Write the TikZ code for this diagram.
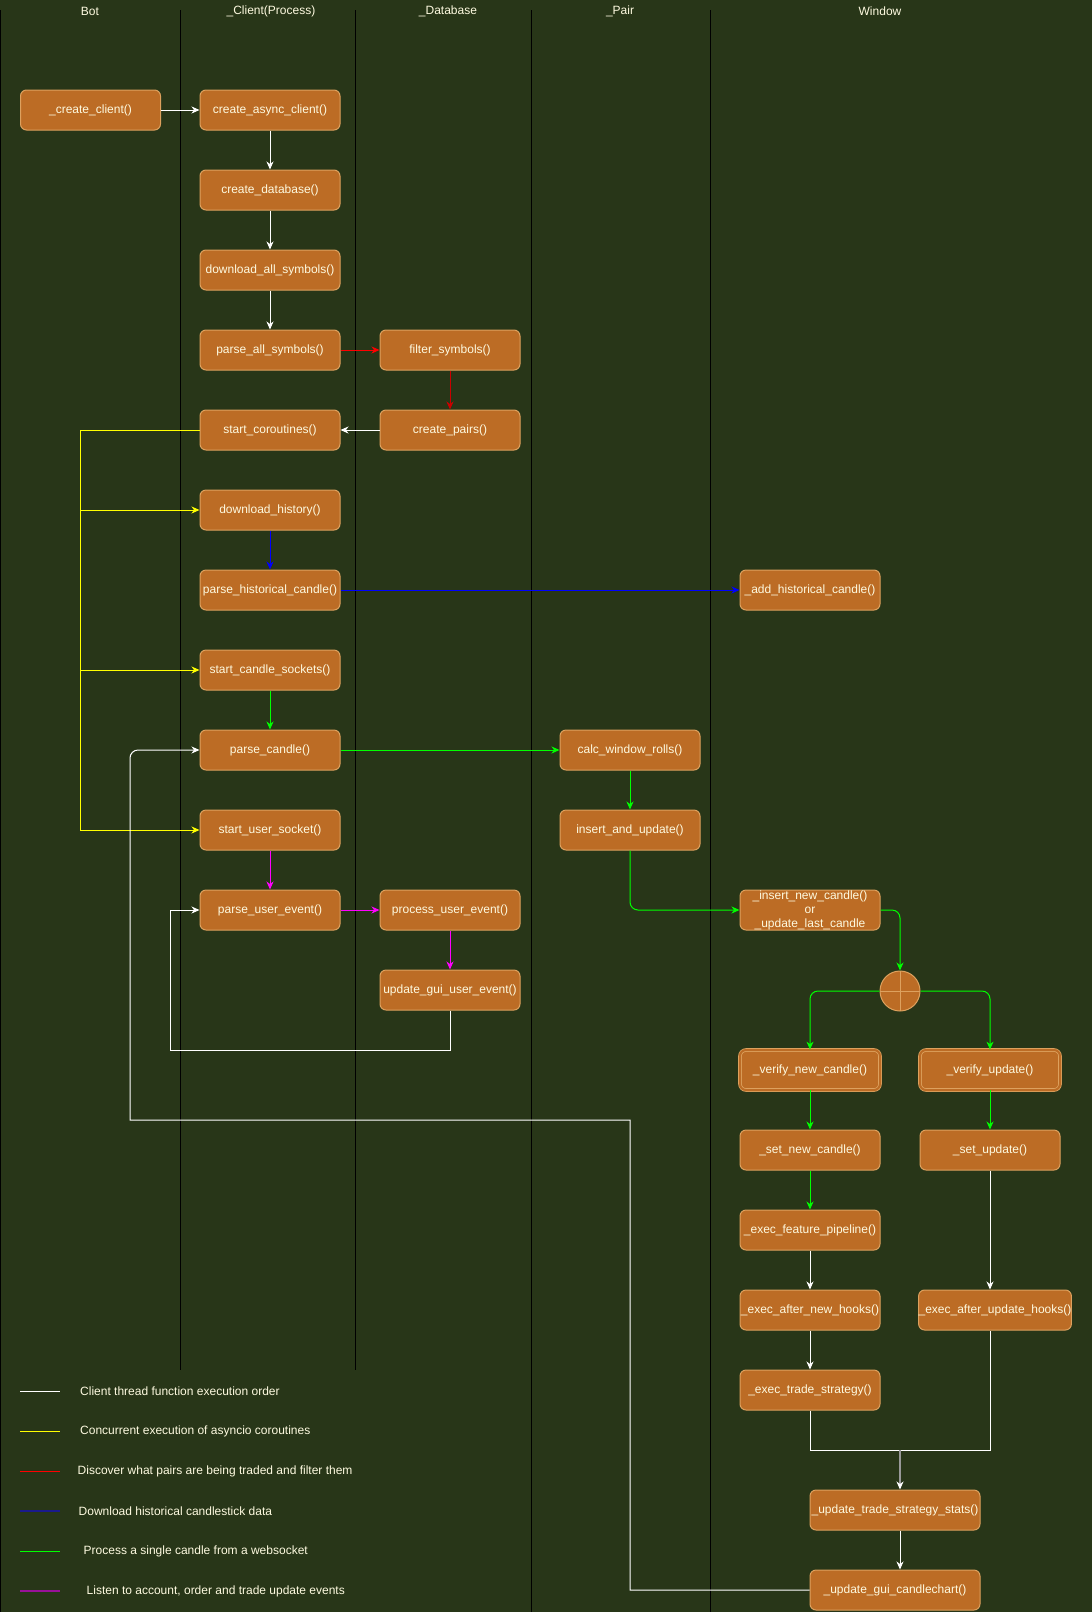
\documentclass[tikz,border=0pt]{standalone}
\usepackage{fontspec}
\setmainfont{Liberation Sans}
\usetikzlibrary{arrows.meta}

\begin{document}
\begin{tikzpicture}[x=1pt,y=-1pt,
  fn/.style={draw=edge, fill=box, text=txt, rounded corners=6pt, line width=1pt,
    minimum width=140pt, minimum height=40pt, inner sep=0pt, align=center,
    font=\fontsize{12}{14}\selectfont},
  dfn/.style={fn, double=box, double distance=2pt, line width=0.8pt},
  hdr/.style={text=txt, inner sep=0pt, font=\fontsize{12}{14}\selectfont},
  legtxt/.style={text=txt, inner sep=0pt, anchor=west, font=\fontsize{12}{14}\selectfont},
  orjoin/.style={circle, draw=edge, fill=box, line width=1pt, minimum size=40pt, inner sep=0pt,
    path picture={\draw[edge, line width=0.8pt] (path picture bounding box.north) -- (path picture bounding box.south)
      (path picture bounding box.west) -- (path picture bounding box.east);}},
  lane/.style={black, line width=1pt},
  flow/.style={line width=1pt, -{Stealth[length=8pt, width=7pt, inset=2.5pt]}},
  wflow/.style={flow, white},
  yflow/.style={flow, yellowline},
  rflow/.style={flow, redline},
  bflow/.style={flow, blueline},
  gflow/.style={flow, greenline},
  mflow/.style={flow, magline}]
\definecolor{bg}{HTML}{283618}
\definecolor{box}{HTML}{BC6C25}
\definecolor{edge}{HTML}{DDA15E}
\definecolor{txt}{HTML}{FEFAE0}
\definecolor{yellowline}{HTML}{FFFF00}
\definecolor{redline}{HTML}{FF0000}
\definecolor{darkredline}{HTML}{CC0000}
\definecolor{blueline}{HTML}{0000FF}
\definecolor{greenline}{HTML}{00FF00}
\definecolor{magline}{HTML}{FF00FF}
\definecolor{navyline}{HTML}{1A1A8C}
\definecolor{purpleline}{HTML}{991199}
\definecolor{joinline}{HTML}{999999}
\fill[bg] (0,0) rectangle (1092,1612);
\useasboundingbox (0,0) rectangle (1092,1612);

\draw[lane] (0.5,10) -- (0.5,1612);
\draw[lane] (180,10) -- (180,1370);
\draw[lane] (355,10) -- (355,1370);
\draw[lane] (531,10) -- (531,1612);
\draw[lane] (710,10) -- (710,1612);

\node[hdr] (hbot) at (90,11) {Bot};
\node[hdr] (hclient) at (271,11) {\_Client(Process)};
\node[hdr] (hdb) at (448,11) {\_Database};
\node[hdr] (hpair) at (620,11) {\_Pair};
\node[hdr] (hwindow) at (880,11) {Window};

\node[fn] (createclient) at (90.5,110) {\_create\_client()};
\node[fn] (createasync) at (270,110) {create\_async\_client()};
\node[fn] (createdb) at (270,190) {create\_database()};
\node[fn] (downloadall) at (270,270) {download\_all\_symbols()};
\node[fn] (parseall) at (270,350) {parse\_all\_symbols()};
\node[fn] (startcor) at (270,430) {start\_coroutines()};
\node[fn] (downloadhist) at (270,510) {download\_history()};
\node[fn] (parsehist) at (270,590) {parse\_historical\_candle()};
\node[fn] (startcandle) at (270,670) {start\_candle\_sockets()};
\node[fn] (parsecandle) at (270,750) {parse\_candle()};
\node[fn] (startuser) at (270,830) {start\_user\_socket()};
\node[fn] (parseuser) at (270,910) {parse\_user\_event()};

\node[fn] (filtersym) at (450,350) {filter\_symbols()};
\node[fn] (createpairs) at (450,430) {create\_pairs()};
\node[fn] (processuser) at (450,910) {process\_user\_event()};
\node[fn] (updategui) at (450,990) {update\_gui\_user\_event()};

\node[fn] (calcroll) at (630,750) {calc\_window\_rolls()};
\node[fn] (insertupd) at (630,830) {insert\_and\_update()};

\node[fn] (addhist) at (810,590) {\_add\_historical\_candle()};
\node[fn] (insertnew) at (810,910) {\_insert\_new\_candle()\\or\\\_update\_last\_candle};
\node[orjoin] (orjoin) at (900,991) {};
\node[dfn] (verifynew) at (810,1070) {\_verify\_new\_candle()};
\node[dfn] (verifyupd) at (990,1070) {\_verify\_update()};
\node[fn] (setnew) at (810,1150) {\_set\_new\_candle()};
\node[fn] (setupd) at (990,1150) {\_set\_update()};
\node[fn] (execfeat) at (810,1230) {\_exec\_feature\_pipeline()};
\node[fn] (execnewhooks) at (810,1310) {\_exec\_after\_new\_hooks()};
\node[fn, minimum width=150pt] (execupdhooks) at (995,1310) {\_exec\_after\_update\_hooks()};
\node[fn] (exectrade) at (810,1390) {\_exec\_trade\_strategy()};
\coordinate (joint) at (900,1450);
\node[fn, minimum width=170pt] (stats) at (895,1510) {\_update\_trade\_strategy\_stats()};
\node[fn, minimum width=170pt] (candlechart) at (895,1590) {\_update\_gui\_candlechart()};

\draw[wflow] (createclient) -- (createasync);
\draw[wflow] (createasync) -- (createdb);
\draw[wflow] (createdb) -- (downloadall);
\draw[wflow] (downloadall) -- (parseall);
\draw[rflow] (parseall) -- (filtersym);
\draw[rflow, darkredline] (filtersym) -- (createpairs);
\draw[wflow] (createpairs) -- (startcor);

\draw[yellowline, line width=1pt] (startcor.west) -- (80,430) -- (80,830);
\draw[yflow] (80,510) -- (downloadhist.west);
\draw[yflow] (80,670) -- (startcandle.west);
\draw[yflow] (80,830) -- (startuser.west);

\draw[bflow] (downloadhist) -- (parsehist);
\draw[bflow] (parsehist) -- (addhist);

\draw[gflow] (startcandle) -- (parsecandle);
\draw[gflow] (parsecandle) -- (calcroll);
\draw[gflow] (calcroll) -- (insertupd);
\draw[gflow, rounded corners=8pt] (insertupd.south) |- (insertnew.west);
\draw[gflow, rounded corners=8pt] (insertnew.east) -| (orjoin.north);
\draw[gflow, rounded corners=8pt] (orjoin.west) -| (verifynew.north);
\draw[gflow, rounded corners=8pt] (orjoin.east) -| (verifyupd.north);
\draw[gflow] (verifynew) -- (setnew);
\draw[gflow] (setnew) -- (execfeat);
\draw[gflow] (verifyupd) -- (setupd);

\draw[wflow] (execfeat) -- (execnewhooks);
\draw[wflow] (execnewhooks) -- (exectrade);
\draw[wflow] (setupd.south) -- (setupd |- execupdhooks.north);
\draw[white, line width=1pt] (exectrade.south) |- (joint) -| (setupd |- execupdhooks.south);
\draw[flow, joinline, line width=2pt, -{Stealth[length=8pt, width=7pt, inset=2.5pt, color=white]}] (joint) -- (joint |- stats.north);
\draw[wflow] (joint |- stats.south) -- (joint |- candlechart.north);
\draw[wflow] (candlechart.west) -| (630,1120) -- (130,1120) [rounded corners=8pt] -- (130,750) -- (parsecandle.west);

\draw[mflow] (startuser) -- (parseuser);
\draw[mflow] (parseuser) -- (processuser);
\draw[mflow] (processuser) -- (updategui);
\draw[wflow] (updategui.south) -- (450,1050) -| (170,910) -- (parseuser.west);

\draw[white, line width=1pt] (20,1391) -- (60,1391);
\node[legtxt] (leg1) at (80,1391) {Client thread function execution order};
\draw[yellowline, line width=1pt] (20,1431) -- (60,1431);
\node[legtxt] (leg2) at (80,1431) {Concurrent execution of asyncio coroutines};
\draw[redline, line width=1pt] (20,1471) -- (60,1471);
\node[legtxt] (leg3) at (77.5,1471) {Discover what pairs are being traded and filter them};
\draw[navyline, line width=2pt] (20,1511) -- (60,1511);
\node[legtxt] (leg4) at (78.5,1511) {Download historical candlestick data};
\draw[greenline, line width=1pt] (20,1551) -- (60,1551);
\node[legtxt] (leg5) at (83.5,1551) {Process a single candle from a websocket};
\draw[purpleline, line width=2pt] (20,1591) -- (60,1591);
\node[legtxt] (leg6) at (86.5,1591) {Listen to account, order and trade update events};
\end{tikzpicture}
\end{document}
